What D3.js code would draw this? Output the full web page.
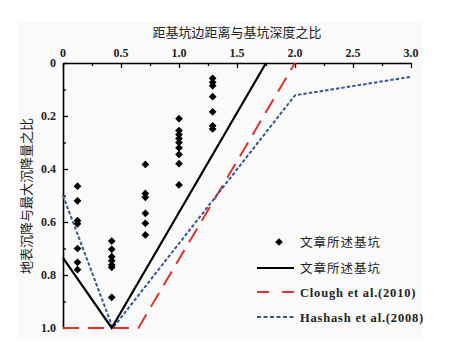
<!DOCTYPE html>
<html><head><meta charset="utf-8">
<script src="https://cdn.jsdelivr.net/npm/d3@7/dist/d3.min.js"></script>
<style>html,body{margin:0;padding:0;background:#fff;}svg{display:block;}</style>
</head><body>
<svg id="c" width="463" height="346"></svg>
<script>
const xTicks = [0, 0.5, 1.0, 1.5, 2.0, 2.5, 3.0];
const xTickLabels = ["0", "0.5", "1.0", "1.5", "2.0", "2.5", "3.0"];
const yTicks = [0, 0.2, 0.4, 0.6, 0.8, 1.0];
const yTickLabels = ["0", "0.2", "0.4", "0.6", "0.8", "1.0"];

// measured points (文章所述基坑)
const ptX = [0.125,0.125,0.125,0.125,0.125,0.125,0.125,
             0.42,0.42,0.42,0.42,0.42,0.42,0.42,
             0.71,0.71,0.71,0.71,0.71,0.71,
             1.0,1.0,1.0,1.0,1.0,1.0,1.0,1.0,1.0,
             1.29,1.29,1.29,1.29,1.29,1.29,1.29];
const ptY = [0.465,0.52,0.595,0.607,0.70,0.752,0.78,
             0.672,0.703,0.731,0.746,0.762,0.771,0.884,
             0.383,0.492,0.507,0.567,0.605,0.649,
             0.21,0.255,0.27,0.285,0.30,0.32,0.345,0.38,0.46,
             0.058,0.073,0.086,0.127,0.184,0.237,0.249];

// envelope lines
const blackX = [0, 0.42, 1.75];
const blackY = [0.735, 1.0, 0];
const redX = [0, 0.65, 2.0];
const redY = [1.0, 1.0, 0];
const blueX = [0, 0.43, 2.0, 3.0];
const blueY = [0.5, 1.0, 0.122, 0.052];

const legendLabels = ["文章所述基坑", "文章所述基坑", "Clough et al.(2010)", "Hashash et al.(2008)"];

const svg = d3.select("#c");
const serif = "'Liberation Serif','DejaVu Serif',serif";
const cjk = "'Noto Sans CJK SC','Noto Sans',sans-serif";

svg.append("rect").attr("x",17).attr("y",22).attr("width",406).attr("height",318).attr("fill","#fafafa");

const x = d3.scaleLinear().domain([0,3]).range([63,411]);
const y = d3.scaleLinear().domain([0,1]).range([63,328]);

// top axis
const xAxis = d3.axisTop(x).tickValues(d3.range(0,3.01,0.25)).tickSize(0).tickFormat("");
const gx = svg.append("g").attr("transform","translate(0,63)").call(xAxis);
gx.select(".domain").attr("stroke","#000").attr("stroke-width",1.6);
gx.selectAll(".tick line").remove();
gx.selectAll(".tick").append("line")
  .attr("y2", d => (Math.abs(d*2 - Math.round(d*2))<1e-6) ? 5 : 3)
  .attr("stroke","#000").attr("stroke-width",1.3);
xTicks.forEach((t,i)=>{
  svg.append("text").attr("x",x(t)).attr("y",57).attr("text-anchor","middle")
    .attr("font-family",serif).attr("font-size",12).attr("font-weight","bold").attr("fill","#222")
    .text(xTickLabels[i]);
});

// left axis
const yAxis = d3.axisLeft(y).tickValues(d3.range(0,1.001,0.1)).tickSize(0).tickFormat("");
const gy = svg.append("g").attr("transform","translate(63,0)").call(yAxis);
gy.select(".domain").attr("stroke","#000").attr("stroke-width",1.6);
gy.selectAll(".tick line").remove();
gy.selectAll(".tick").append("line")
  .attr("x2", d => (Math.abs(d*5 - Math.round(d*5))<1e-6) ? 5 : 3)
  .attr("stroke","#000").attr("stroke-width",1.3);
yTicks.forEach((t,i)=>{
  svg.append("text").attr("x",56).attr("y",y(t)+4).attr("text-anchor","end")
    .attr("font-family",serif).attr("font-size",12).attr("font-weight","bold").attr("fill","#222")
    .text(yTickLabels[i]);
});

// titles
svg.append("text").attr("x",237).attr("y",37).attr("text-anchor","middle")
  .attr("font-family",cjk).attr("font-size",13).attr("fill","#222").text("距基坑边距离与基坑深度之比");
svg.append("text").attr("transform","translate(31,196) rotate(-90)").attr("text-anchor","middle")
  .attr("font-family",cjk).attr("font-size",13).attr("fill","#222").text("地表沉降与最大沉降量之比");

const line = d3.line().x(d=>x(d[0])).y(d=>y(d[1]));
const zip = (a,b)=>a.map((v,i)=>[v,b[i]]);

svg.append("path").attr("d",line(zip(redX,redY))).attr("fill","none")
  .attr("stroke","#e0312b").attr("stroke-width",2).attr("stroke-dasharray","16,9");
svg.append("path").attr("d",line(zip(blueX,blueY))).attr("fill","none")
  .attr("stroke","#3b5694").attr("stroke-width",2).attr("stroke-dasharray","3.5,2");
svg.append("path").attr("d",line(zip(blackX,blackY))).attr("fill","none")
  .attr("stroke","#000").attr("stroke-width",2.2);

const diamond = d3.symbol().type(d3.symbolSquare).size(30);
svg.append("g").selectAll("path").data(zip(ptX,ptY)).join("path")
  .attr("d",diamond)
  .attr("transform",d=>`translate(${x(d[0])},${y(d[1])}) rotate(45)`)
  .attr("fill","#000");

// legend
const ly = [242, 268, 292, 317];
const lg = svg.append("g");
lg.append("path").attr("d",diamond).attr("transform",`translate(279,${ly[0]}) rotate(45)`).attr("fill","#000");
lg.append("line").attr("x1",257).attr("x2",294).attr("y1",ly[1]).attr("y2",ly[1]).attr("stroke","#000").attr("stroke-width",2);
lg.append("line").attr("x1",257).attr("x2",294).attr("y1",ly[2]).attr("y2",ly[2]).attr("stroke","#e0312b").attr("stroke-width",2).attr("stroke-dasharray","12,13");
lg.append("line").attr("x1",257).attr("x2",294).attr("y1",ly[3]).attr("y2",ly[3]).attr("stroke","#3b5694").attr("stroke-width",2).attr("stroke-dasharray","4,2.5");
legendLabels.forEach((t,i)=>{
  lg.append("text").attr("x",300).attr("y",ly[i]+4.5)
    .attr("font-family", i<2 ? cjk : serif).attr("font-size",12.5)
    .attr("font-weight", i<2 ? "normal" : "bold").attr("letter-spacing", i<2 ? 1 : 0.8)
    .attr("fill","#222").text(t);
});
</script>
</body></html>
